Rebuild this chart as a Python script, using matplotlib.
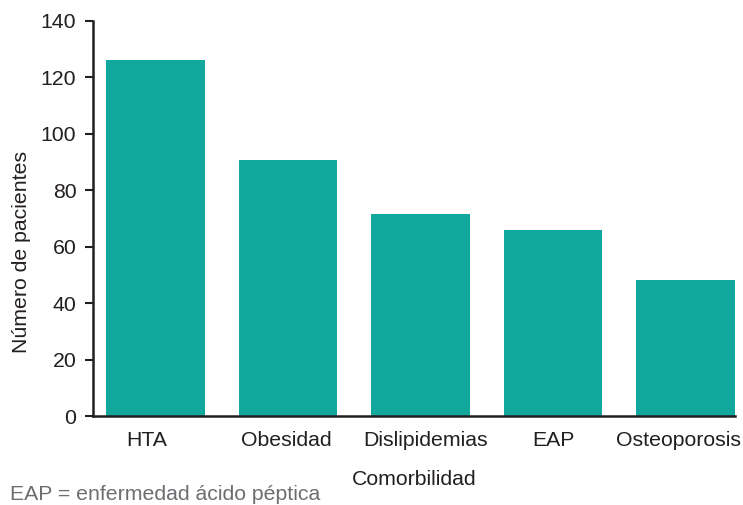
import matplotlib
matplotlib.use("Agg")
import matplotlib.pyplot as plt
from matplotlib.transforms import ScaledTranslation

categories = ["HTA", "Obesidad", "Dislipidemias", "EAP", "Osteoporosis"]
values = [126, 90.5, 71.5, 66, 48.2]
yticks = [0, 20, 40, 60, 80, 100, 120, 140]

plt.rcParams['font.family'] = ['Liberation Sans', 'DejaVu Sans']
txt = '#231F20'
fs = 15.3
fig = plt.figure(figsize=(7.43, 5.05), dpi=100)
ax = fig.add_axes([93/743, 1-416/505, (735-93)/743, (416-20.7)/505])
x = list(range(len(categories)))
ax.bar(x, values, width=0.745, color='#12A89D')
ax.set_xlim(-0.47, 4.3725)
ax.set_ylim(0, 140)
ax.set_yticks(yticks)
ax.set_xticks(x)
ax.set_xticklabels(categories)
for s in ['top', 'right']:
    ax.spines[s].set_visible(False)
for s in ['left', 'bottom']:
    ax.spines[s].set_linewidth(1.8)
    ax.spines[s].set_color(txt)
ax.tick_params(axis='y', length=6, width=1.5, color=txt, labelsize=fs, labelcolor=txt, pad=6)
ax.tick_params(axis='x', length=0, labelsize=fs, labelcolor=txt, pad=11)
# small per-label horizontal nudges (pixels) as in the reference layout
nudges = [-9, -2, 5, 0, -7]
for lab, dx in zip(ax.get_xticklabels(), nudges):
    lab.set_transform(lab.get_transform() + ScaledTranslation(dx/100, 0, fig.dpi_scale_trans))
fig.text(22/743, 1-252/505, "Número de pacientes", fontsize=fs, color=txt,
         rotation=90, ha='center', va='center')
ax.set_xlabel("Comorbilidad", fontsize=fs, color=txt, labelpad=14)
fig.text(10/743, 1-495/505, "EAP = enfermedad ácido péptica", fontsize=fs, color='#6D6E71', va='center', ha='left')
fig.savefig("out.png", dpi=100)
